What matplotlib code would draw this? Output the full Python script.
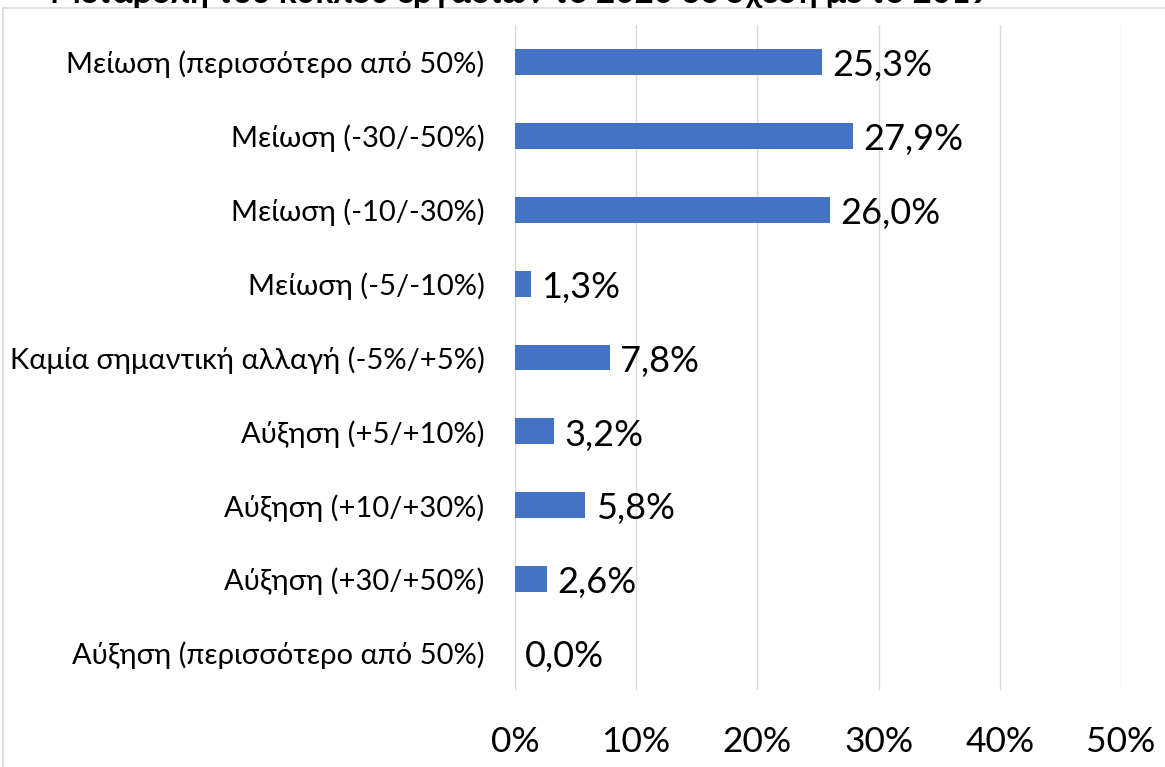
import matplotlib.pyplot as plt
from matplotlib.patches import Rectangle

categories = [
    "Μείωση (περισσότερο από 50%)",
    "Μείωση (-30/-50%)",
    "Μείωση (-10/-30%)",
    "Μείωση (-5/-10%)",
    "Καμία σημαντική αλλαγή (-5%/+5%)",
    "Αύξηση (+5/+10%)",
    "Αύξηση (+10/+30%)",
    "Αύξηση (+30/+50%)",
    "Αύξηση (περισσότερο από 50%)",
]
values = [25.3, 27.9, 26.0, 1.3, 7.8, 3.2, 5.8, 2.6, 0.0]
ticks = [0, 10, 20, 30, 40, 50]
title = "Μεταβολή του κύκλου εργασιών το 2020 σε σχέση με το 2019"

plt.rcParams['font.family'] = ['Lato', 'DejaVu Sans']

fig = plt.figure(figsize=(11.65, 7.67), dpi=100)
ax = fig.add_axes([515 / 1165, 1 - 690 / 767, 606 / 1165, 665 / 767])

# chart border, cut at the right and bottom edges
fig.patches.append(Rectangle((3 / 1165, -0.1), 1.2, 1.1 - 8 / 767, transform=fig.transFigure,
                             fill=False, edgecolor="#d9d9d9", lw=1.2))

y = list(range(len(categories)))
ax.barh(y, values, height=0.35, color="#4472C4")
for yi, v in zip(y, values):
    ax.text(v + 0.85, yi + 0.05, f"{v:.1f}%".replace(".", ","), va="center", ha="left",
            fontsize=26, color="black")

ax.set_xlim(0, 50)
ax.set_ylim(len(categories) - 0.5, -0.5)
ax.set_yticks(y)
ax.set_yticklabels(categories, fontsize=21)
ax.set_xticks(ticks)
ax.set_xticklabels([f"{t}%" for t in ticks], fontsize=25.5)
ax.tick_params(axis="x", length=0, pad=26)
ax.tick_params(axis="y", length=0, pad=22)
ax.grid(axis="x", color="#d9d9d9", lw=1)
ax.set_axisbelow(True)
for s in ax.spines.values():
    s.set_visible(False)

# title is cut at the top edge, as in the source image
fig.text(50 / 1165, 1 - 3 / 767, title, fontsize=24, fontweight="bold",
         ha="left", va="baseline")

fig.savefig("out.png", dpi=100)
